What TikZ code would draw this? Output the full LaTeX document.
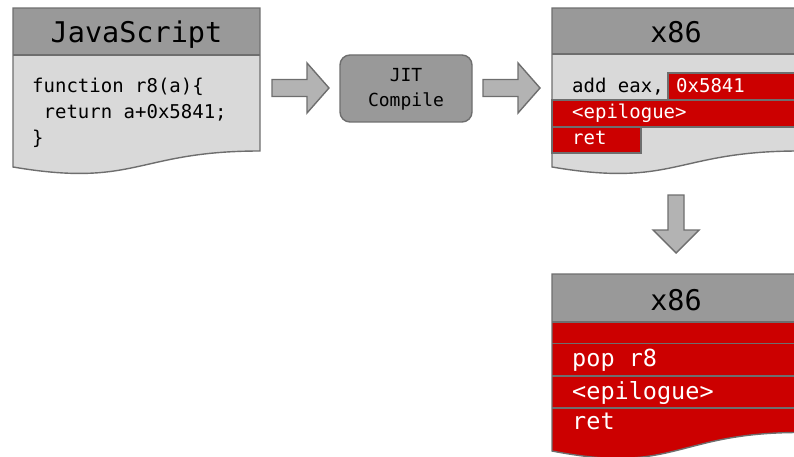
\documentclass[tikz,border=0pt]{standalone}
\usepackage{fontspec}
\setmonofont{DejaVu Sans Mono}
\definecolor{hdrgray}{HTML}{999999}
\definecolor{bodygray}{HTML}{D9D9D9}
\definecolor{arrowgray}{HTML}{B3B3B3}
\definecolor{linegray}{HTML}{6E6E6E}
\definecolor{codered}{HTML}{CC0000}
\tikzset{
  edge/.style={draw=linegray, line width=1.4pt, line join=miter},
  hdr/.style={fill=hdrgray},
  bodyfill/.style={fill=bodygray},
  redrow/.style={fill=codered, draw=linegray, line width=1.4pt},
  blockarrow/.style={fill=arrowgray, draw=linegray, line width=1.4pt, line join=miter},
  title/.style={font=\ttfamily\fontsize{28.5}{28.5}\selectfont, inner sep=0pt, anchor=base},
  code/.style={font=\ttfamily\fontsize{19}{19}\selectfont, inner sep=0pt, anchor=base west},
  bigcode/.style={font=\ttfamily\fontsize{23.5}{23.5}\selectfont, inner sep=0pt, anchor=base west, text=white},
  jit/.style={font=\ttfamily\fontsize{18}{18}\selectfont, inner sep=0pt, anchor=base},
}
\begin{document}
\begin{tikzpicture}[x=1pt,y=-1pt]
\useasboundingbox (0,0) rectangle (794,457);
\clip (0,0) rectangle (794,457);

% ---------- JavaScript source box ----------
\fill[hdr] (13,8) rectangle (260,55);
\fill[bodyfill] (13,55) -- (260,55) -- (260,151)
  .. controls (136.5,151) and (136.5,188) .. (13,167) -- cycle;
\draw[edge] (13,55) -- (260,55);
\draw[edge] (13,8) -- (260,8) -- (260,151)
  .. controls (136.5,151) and (136.5,188) .. (13,167) -- cycle;
\node[title] (jstitle) at (136.5,43) {JavaScript};
\node[code] (js1) at (32,93) {function r8(a)\{};
\node[code] (js2) at (32,119) {\phantom{r}return a+0x5841;};
\node[code] (js3) at (32,145) {\}};

% ---------- JIT compiler ----------
\node[fill=hdrgray, draw=linegray, line width=1.4pt, rounded corners=10pt,
      minimum width=132pt, minimum height=67pt, inner sep=0pt] (jitbox) at (406,88.5) {};
\node[jit] (jit1) at (406,82) {JIT};
\node[jit] (jit2) at (406,107) {Compile};

% block arrows
\draw[blockarrow] (272,79.5) -- (307,79.5) -- (307,63) -- (329,88)
  -- (307,113) -- (307,96.5) -- (272,96.5) -- cycle;
\draw[blockarrow] (483,79.5) -- (518,79.5) -- (518,63) -- (540,88)
  -- (518,113) -- (518,96.5) -- (483,96.5) -- cycle;
\draw[blockarrow] (668,195) -- (684,195) -- (684,230) -- (699,230)
  -- (676,253) -- (653,230) -- (668,230) -- cycle;

% ---------- generated x86 code ----------
\fill[hdr] (552,8) rectangle (799,54);
\fill[bodyfill] (552,54) -- (799,54) -- (799,151)
  .. controls (675.5,151) and (675.5,188) .. (552,167) -- cycle;
\draw[redrow] (668,73) rectangle (802,100);
\draw[redrow] (552,100) rectangle (802,127);
\draw[redrow] (552,127) rectangle (641,153);
\draw[edge] (552,54) -- (799,54);
\draw[edge] (552,8) -- (799,8) -- (799,151)
  .. controls (675.5,151) and (675.5,188) .. (552,167) -- cycle;
\node[title] (xtitle) at (676,43) {x86};
\node[code] (add) at (572,93) {add eax,};
\node[code, text=white] (imm) at (676,93) {0x5841};
\node[code, text=white] (epi) at (572,119) {<epilogue>};
\node[code, text=white] (ret) at (572,145) {ret};

% ---------- x86 code as decoded from the constant ----------
\fill[hdr] (552,274) rectangle (799,322);
\fill[codered] (552,322) -- (799,322) -- (799,432.5)
  .. controls (675.5,432.5) and (675.5,475) .. (552,451) -- cycle;
\draw[edge] (552,343.5) -- (799,343.5);
\draw[edge] (552,376) -- (799,376);
\draw[edge] (552,408) -- (799,408);
\draw[edge] (552,322) -- (799,322);
\draw[edge] (552,274) -- (799,274) -- (799,432.5)
  .. controls (675.5,432.5) and (675.5,475) .. (552,451) -- cycle;
\node[title] (ytitle) at (676,310) {x86};
\node[bigcode] (pop) at (572,366) {pop r8};
\node[bigcode] (epi2) at (572,399) {<epilogue>};
\node[bigcode] (ret2) at (572,429) {ret};
\end{tikzpicture}
\end{document}
